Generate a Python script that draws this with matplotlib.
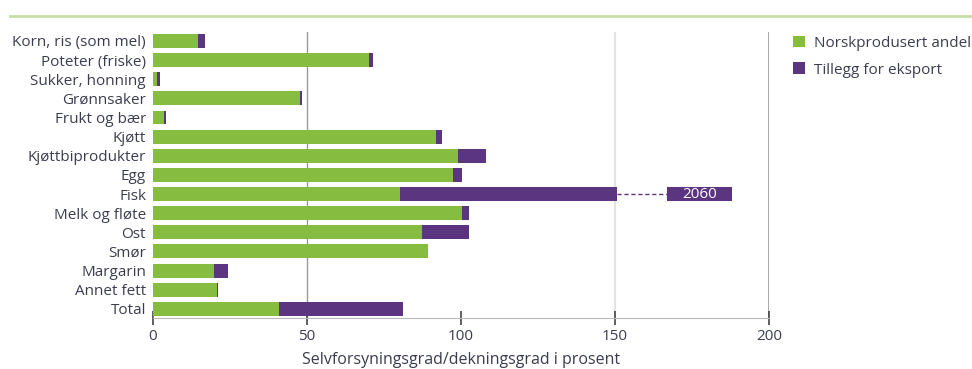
import matplotlib.pyplot as plt
from matplotlib.lines import Line2D
import numpy as np

# categories, top to bottom
categories = ["Korn, ris (som mel)", "Poteter (friske)", "Sukker, honning", "Grønnsaker",
              "Frukt og bær", "Kjøtt", "Kjøttbiprodukter", "Egg", "Fisk", "Melk og fløte",
              "Ost", "Smør", "Margarin", "Annet fett", "Total"]
# norwegian produced share (%)
norsk = [14.7, 70.2, 1.2, 47.7, 3.7, 91.9, 98.9, 97.5, 80.2, 100.2, 87.4, 89.3, 19.9, 20.7, 40.9]
# total degree of coverage incl. export (%)
total = [17.0, 71.5, 2.3, 48.3, 4.3, 93.8, 108.1, 100.3, 2060, 102.6, 102.6, 89.3, 24.4, 21.1, 81.3]

green = "#86bc40"
purple = "#5c3581"
textc = "#3b3d4f"

plt.rcParams['font.family'] = ['Open Sans', 'DejaVu Sans']

fig = plt.figure(figsize=(9.72, 3.69), dpi=100)
ax = fig.add_axes([153/972, 1-318/369, (769-153)/972, (318-32)/369])

y = np.arange(len(categories))
norsk = np.array(norsk)
total = np.array(total)
shown = np.minimum(total, 150.5)  # Fisk is cut at 150 and labelled instead
extra = shown - norsk

ax.barh(y, norsk, height=0.73, color=green, label="Norskprodusert andel", zorder=3)
ax.barh(y, extra, left=norsk, height=0.73, color=purple, label="Tillegg for eksport", zorder=3)

# the broken Fisk bar
i = categories.index("Fisk")
ax.plot([shown[i], 167], [i, i], color=purple, lw=1, ls=(0, (3, 2)), zorder=3)
ax.barh(i, 188 - 167, left=167, height=0.7, color=purple, zorder=3)
ax.text(177.5, i, f"{total[i]:.0f}", color="white", ha="center", va="center", fontsize=11, zorder=4)

ax.set_xlim(0, 200)
ax.set_ylim(len(categories) - 0.52, -0.47)
ax.set_yticks(y)
ax.set_yticklabels(categories, fontsize=11, color=textc)
ax.tick_params(axis="y", length=0, pad=5)
ax.set_xticks([0, 50, 100, 150, 200])
ax.tick_params(axis="x", direction="inout", length=10, width=1.2, color="#444444",
               labelsize=11, labelcolor=textc, pad=3)
ax.set_xlabel("Selvforsyningsgrad/dekningsgrad i prosent", fontsize=11.5, color=textc, labelpad=6)

for s in ["top", "right", "left"]:
    ax.spines[s].set_visible(False)
ax.spines["bottom"].set_color("#bbbbbb")

# vertical guide lines
ax.axvline(50, color="#999999", lw=1, zorder=1)
ax.axvline(150, color="#e2e2e2", lw=1.5, zorder=1)
ax.axvline(200, color="#999999", lw=1.2, zorder=1)

leg = ax.legend(loc="upper left", bbox_to_anchor=(779/972, 1-22/369), bbox_transform=fig.transFigure,
                frameon=False, fontsize=11, handlelength=0.8, handleheight=0.8,
                handletextpad=0.6, labelspacing=0.75)
for t in leg.get_texts():
    t.set_color(textc)

# light green rule at the top
fig.add_artist(Line2D([10/972, 1], [1-16/369, 1-16/369], color="#c4e0a6", lw=2,
                      transform=fig.transFigure))

fig.savefig("out.png", dpi=100)
